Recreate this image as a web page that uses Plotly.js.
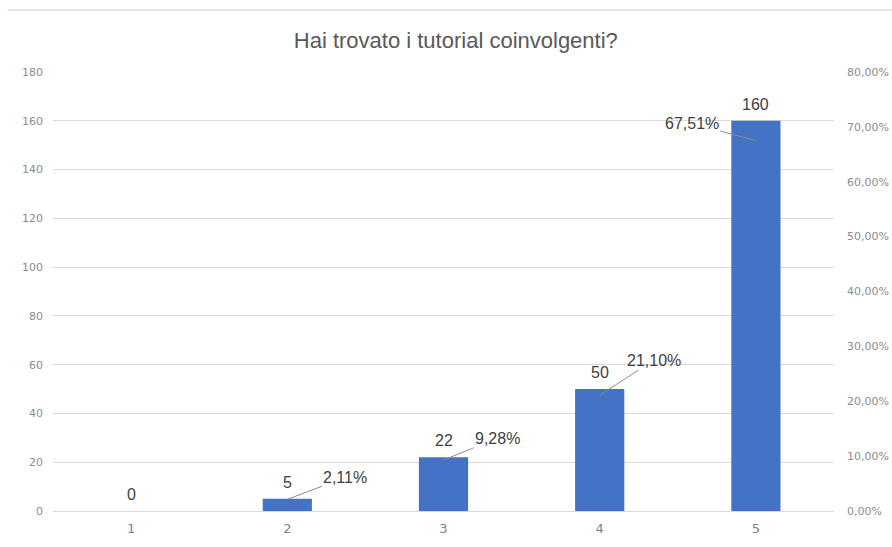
<!DOCTYPE html>
<html>
<head>
<meta charset="utf-8">
<script src="https://cdn.plot.ly/plotly-3.0.1.min.js"></script>
<style>
  html, body { margin: 0; padding: 0; background: #ffffff; }
  #chart { width: 892px; height: 547px; }
</style>
</head>
<body>
<div id="chart"></div>
<script>
// Survey answers on a 1–5 scale
const categories = [1, 2, 3, 4, 5];
const counts = [0, 5, 22, 50, 160];
// Share of answers per score, in percent (secondary axis)
const shares = [0, 2.11, 9.28, 21.10, 67.51];
const countTicks = [0, 20, 40, 60, 80, 100, 120, 140, 160, 180];
const shareTicks = [0, 10, 20, 30, 40, 50, 60, 70, 80];

const titleText = 'Hai trovato i tutorial coinvolgenti?';
const barColor = '#4472C4';
const textGrey = '#595959';
const labelDark = '#404040';
const axisGrey = '#8c8c8c';

// Offsets (px) of each share label from its point
const shareLabelOffset = [null, [58, -22], [54, -22], [54, -35], [-64, -17]];

const traces = [
  {
    type: 'bar',
    x: categories,
    y: counts,
    marker: { color: barColor },
    hoverinfo: 'x+y',
    showlegend: false
  },
  {
    type: 'scatter',
    mode: 'markers',
    x: categories,
    y: shares,
    yaxis: 'y2',
    marker: { size: 1, opacity: 0 },
    hoverinfo: 'skip',
    showlegend: false
  }
];

const fmtShare = v => v.toFixed(2).replace('.', ',') + '%';
const labelFont = { family: 'Liberation Sans, Arial, sans-serif', size: 16, color: labelDark };
const tickFont = { family: 'DejaVu Sans, sans-serif', size: 11, color: axisGrey };

const annotations = [];
categories.forEach((c, i) => {
  annotations.push({
    x: c, y: counts[i], xref: 'x', yref: 'y',
    text: String(counts[i]),
    showarrow: false,
    yanchor: 'bottom',
    yshift: 6,
    font: labelFont
  });
  if (shares[i] > 0) {
    const off = shareLabelOffset[i];
    annotations.push({
      x: c, y: shares[i], xref: 'x', yref: 'y2',
      text: fmtShare(shares[i]),
      showarrow: true,
      arrowhead: 0,
      arrowwidth: 1,
      arrowcolor: '#8c8c8c',
      ax: off[0], ay: off[1],
      font: labelFont
    });
  }
});

const layout = {
  width: 892,
  height: 547,
  margin: { l: 53, r: 58, t: 72, b: 36 },
  paper_bgcolor: '#ffffff',
  plot_bgcolor: '#ffffff',
  font: { family: 'Liberation Sans, Arial, sans-serif', color: textGrey },
  title: {
    text: titleText,
    x: 0.511, xanchor: 'center',
    y: 0.927, yanchor: 'middle',
    font: { family: 'Liberation Sans, Arial, sans-serif', size: 22, color: textGrey }
  },
  bargap: 0.685,
  xaxis: {
    range: [0.5, 5.5],
    tickvals: categories,
    ticktext: categories.map(String),
    showgrid: false,
    zeroline: false,
    showline: false,
    ticks: '',
    ticklabelstandoff: 8,
    tickfont: { family: 'DejaVu Sans, sans-serif', size: 13, color: '#7f7f7f' }
  },
  yaxis: {
    range: [0, 180],
    tickvals: countTicks,
    showgrid: true,
    gridcolor: '#d9d9d9',
    gridwidth: 1,
    zeroline: true,
    zerolinecolor: '#d9d9d9',
    showline: false,
    ticks: '',
    ticklabelstandoff: 9,
    tickfont: tickFont
  },
  yaxis2: {
    overlaying: 'y',
    side: 'right',
    range: [0, 80],
    tickvals: shareTicks,
    ticktext: shareTicks.map(fmtShare),
    showgrid: false,
    zeroline: false,
    showline: false,
    ticks: '',
    ticklabelstandoff: 12,
    tickfont: tickFont
  },
  annotations: annotations,
  shapes: [
    {
      type: 'line', xref: 'paper', yref: 'paper',
      x0: -0.058, x1: 1.08, y0: 1.141, y1: 1.141,
      line: { color: '#e3e3e3', width: 2 }
    }
  ]
};

Plotly.newPlot('chart', traces, layout, { displayModeBar: false, staticPlot: true });
</script>
</body>
</html>
